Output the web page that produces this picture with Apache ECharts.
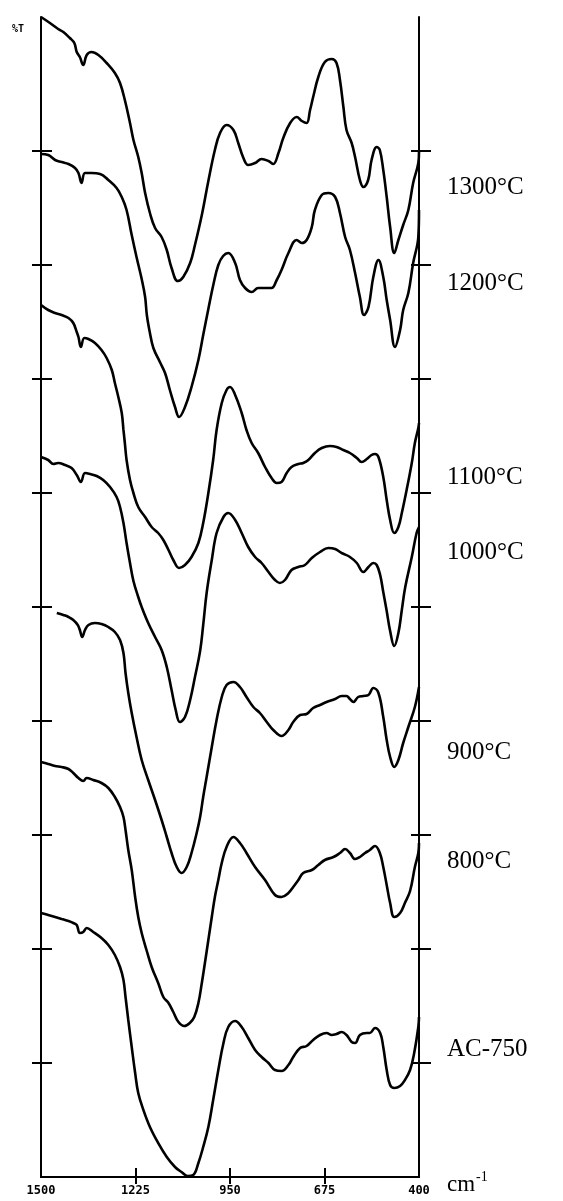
<!DOCTYPE html>
<html>
<head>
<meta charset="utf-8">
<title>IR spectra</title>
<script src="https://cdn.jsdelivr.net/npm/echarts@6/dist/echarts.min.js"></script>
<style>
  html, body { margin: 0; padding: 0; background: #fff; }
  #chart { width: 563px; height: 1201px; }
</style>
</head>
<body>
<div id="chart"></div>
<script>
// Wavenumber axis (cm-1) tick labels and the inner tick positions
const xTickLabels = [1500, 1225, 950, 675, 400];
const xInnerTicks = [1225, 950, 675];
// Offset transmittance scale: divisions along the frame sides
const yTicks = [114, 228, 342, 456, 570, 684, 798, 912, 1026];

// Spectra as [wavenumber, offset %T]
const s1300 = [[1500,1160],[1474,1154],[1450,1148],[1435,1145],[1416,1139],[1403,1134],[1396,1125],[1387,1120],[1377,1112],[1367,1122],[1353,1125],[1333,1122],[1309,1114],[1285,1104],[1270,1094],[1256,1077],[1241,1054],[1231,1037],[1217,1020],[1207,1004],[1197,984],[1183,964],[1168,949],[1149,940],[1134,927],[1120,909],[1102,896],[1086,900],[1066,914],[1052,932],[1032,962],[1013,996],[994,1027],[979,1044],[960,1052],[940,1047],[926,1034],[911,1019],[897,1012],[877,1014],[858,1018],[838,1016],[824,1013],[809,1024],[795,1039],[775,1054],[756,1060],[741,1056],[727,1054],[717,1067],[708,1080],[693,1100],[674,1115],[654,1118],[640,1114],[630,1097],[620,1070],[611,1047],[596,1034],[586,1020],[572,997],[562,990],[548,997],[538,1017],[523,1030],[514,1027],[504,1007],[494,980],[484,950],[472,924],[460,937],[446,952],[431,967],[417,994],[402,1014],[400,1025]];

const s1200 = [[1500,1023],[1479,1022],[1459,1017],[1440,1015],[1420,1013],[1401,1009],[1391,1004],[1382,994],[1372,1004],[1353,1004],[1328,1003],[1304,997],[1280,989],[1265,980],[1251,967],[1236,942],[1222,920],[1207,898],[1197,880],[1192,862],[1183,844],[1173,829],[1154,815],[1139,804],[1125,787],[1110,770],[1098,760],[1081,770],[1062,790],[1042,817],[1028,842],[1013,868],[998,893],[984,912],[970,921],[955,924],[935,914],[921,897],[906,889],[887,885],[868,889],[848,889],[829,889],[814,897],[800,907],[780,924],[756,937],[741,934],[727,937],[712,950],[703,967],[683,982],[664,984],[644,980],[630,964],[615,940],[601,927],[586,904],[572,880],[560,862],[547,870],[533,900],[518,917],[504,900],[494,877],[484,857],[470,830],[455,847],[446,867],[431,884],[417,914],[402,940],[400,967]];

const s1100 = [[1500,872],[1479,867],[1459,864],[1440,862],[1420,859],[1406,854],[1396,845],[1391,840],[1384,830],[1374,839],[1362,838],[1343,834],[1324,827],[1309,819],[1294,807],[1285,794],[1275,780],[1265,764],[1260,747],[1256,734],[1251,717],[1241,697],[1231,684],[1217,670],[1197,660],[1178,650],[1159,644],[1144,637],[1129,627],[1115,617],[1098,609],[1081,612],[1062,620],[1042,634],[1028,654],[1013,684],[999,717],[989,747],[974,774],[960,787],[950,790],[935,782],[916,764],[902,747],[887,734],[868,724],[848,710],[829,699],[814,694],[800,695],[785,704],[771,710],[751,713],[737,714],[722,717],[703,724],[683,729],[659,731],[640,730],[620,727],[601,724],[581,719],[567,715],[552,718],[538,722],[528,723],[518,720],[504,700],[494,677],[484,657],[472,644],[460,650],[450,664],[436,687],[421,714],[412,734],[402,749],[400,754]];

const s1000 = [[1500,720],[1479,717],[1464,713],[1450,714],[1430,712],[1411,709],[1396,702],[1384,695],[1372,704],[1357,703],[1338,701],[1319,697],[1299,690],[1280,680],[1270,670],[1260,654],[1251,634],[1241,614],[1231,596],[1217,580],[1207,570],[1188,554],[1168,540],[1149,527],[1134,510],[1120,487],[1108,467],[1096,455],[1081,460],[1066,477],[1052,500],[1037,526],[1028,552],[1018,584],[1003,617],[989,644],[969,660],[955,664],[935,657],[916,644],[897,630],[877,620],[858,614],[838,605],[819,597],[805,594],[790,597],[771,607],[751,610],[732,612],[712,619],[688,625],[664,629],[644,628],[625,624],[601,620],[581,614],[562,605],[547,610],[533,614],[523,612],[513,602],[504,585],[494,566],[484,546],[472,531],[460,544],[450,567],[440,590],[421,620],[407,644],[400,650]];

const s900 = [[1454,564],[1435,562],[1420,560],[1406,557],[1393,552],[1387,547],[1380,540],[1372,547],[1362,552],[1343,554],[1324,553],[1304,550],[1285,545],[1270,537],[1260,524],[1254,504],[1246,484],[1236,464],[1222,440],[1207,417],[1188,397],[1168,377],[1149,357],[1134,340],[1120,324],[1105,310],[1091,304],[1076,310],[1062,324],[1047,344],[1037,360],[1028,380],[1018,400],[1003,430],[989,457],[974,480],[960,492],[940,495],[921,490],[902,480],[882,470],[863,464],[843,455],[824,447],[800,441],[780,447],[766,455],[746,462],[727,463],[708,469],[688,472],[669,475],[644,478],[625,481],[611,481],[601,478],[591,475],[577,480],[562,481],[547,482],[533,489],[518,484],[504,460],[494,437],[484,420],[472,410],[460,417],[446,434],[431,450],[412,470],[400,490]];

const s800 = [[1500,415],[1479,413],[1459,411],[1440,410],[1420,408],[1406,404],[1391,399],[1377,396],[1367,399],[1348,397],[1324,394],[1304,389],[1285,380],[1270,370],[1260,360],[1254,347],[1246,327],[1236,307],[1226,280],[1217,260],[1207,244],[1193,227],[1178,210],[1159,194],[1144,180],[1129,174],[1115,165],[1100,155],[1083,151],[1067,154],[1054,160],[1042,174],[1032,194],[1023,214],[1013,237],[1003,260],[994,280],[984,297],[974,314],[960,330],[940,340],[921,334],[902,324],[877,310],[848,297],[819,282],[800,280],[780,284],[766,290],[751,297],[737,304],[712,307],[693,312],[674,317],[649,320],[630,324],[615,328],[601,324],[586,318],[572,320],[557,324],[543,327],[528,331],[514,324],[504,310],[494,292],[484,274],[472,260],[455,264],[441,274],[426,286],[412,310],[402,324],[400,334]];

const sAC750 = [[1500,264],[1479,262],[1459,260],[1440,258],[1420,256],[1406,254],[1396,252],[1387,244],[1377,245],[1367,249],[1348,245],[1324,239],[1304,232],[1285,222],[1270,210],[1260,197],[1254,180],[1246,157],[1236,130],[1226,104],[1217,84],[1202,67],[1183,50],[1159,34],[1134,20],[1110,10],[1091,5],[1073,1],[1057,2],[1042,14],[1028,30],[1013,50],[999,77],[984,107],[969,134],[955,150],[935,156],[916,150],[897,139],[877,127],[858,120],[838,114],[819,107],[800,106],[780,112],[766,120],[746,129],[727,131],[708,137],[688,142],[669,144],[654,142],[640,143],[625,145],[611,142],[596,135],[586,134],[572,142],[552,144],[543,144],[528,149],[513,144],[504,130],[494,107],[484,92],[472,89],[455,91],[441,97],[426,107],[414,124],[402,150],[400,160]];

const spectra = [
  { name: '1300°C', data: s1300 },
  { name: '1200°C', data: s1200 },
  { name: '1100°C', data: s1100 },
  { name: '1000°C', data: s1000 },
  { name: '900°C',  data: s900 },
  { name: '800°C',  data: s800 },
  { name: 'AC-750', data: sAC750 }
];

// Curve labels placed beside the right frame
const curveLabels = [
  { text: '1300°C', y: 188 },
  { text: '1200°C', y: 284 },
  { text: '1100°C', y: 478 },
  { text: '1000°C', y: 553 },
  { text: '900°C',  y: 753 },
  { text: '800°C',  y: 862 },
  { text: 'AC-750', y: 1050 }
];

const chart = echarts.init(document.getElementById('chart'), null, { renderer: 'canvas' });

const ink = '#000';
const frameLine = { show: true, lineStyle: { color: ink, width: 2 } };

function xAxisDef(position, opts) {
  return Object.assign({
    type: 'value', position: position, min: 400, max: 1500, inverse: true,
    splitLine: { show: false }, axisLabel: { show: false },
    axisLine: { show: false }, axisTick: { show: false }
  }, opts);
}
function yAxisDef(position, opts) {
  return Object.assign({
    type: 'value', position: position, min: 0, max: 1160,
    splitLine: { show: false }, axisLabel: { show: false },
    axisLine: { show: false }, axisTick: { show: false }
  }, opts);
}

const option = {
  backgroundColor: '#fff',
  animation: false,
  grid: { left: 41, right: 144, top: 17, bottom: 24, containLabel: false },
  xAxis: [
    xAxisDef('bottom', {
      axisLine: frameLine,
      axisTick: { show: true, inside: true, length: 9, customValues: xInnerTicks, lineStyle: { color: ink, width: 2 } },
      axisLabel: {
        show: true, customValues: xTickLabels, margin: 8,
        formatter: v => String(v),
        fontFamily: 'DejaVu Sans Mono', fontWeight: 'bold', fontSize: 12, color: ink
      }
    }),
    xAxisDef('bottom', {
      axisTick: { show: true, inside: false, length: 3, customValues: xInnerTicks, lineStyle: { color: ink, width: 2 } }
    }),
    xAxisDef('top', {
      axisLine: frameLine,
      axisTick: { show: true, inside: true, length: 7, customValues: xInnerTicks, lineStyle: { color: ink, width: 2 } }
    }),
    xAxisDef('top', {
      axisTick: { show: true, inside: false, length: 6, customValues: xInnerTicks, lineStyle: { color: ink, width: 2 } }
    })
  ],
  yAxis: [
    yAxisDef('left', {
      axisLine: frameLine,
      axisTick: { show: true, inside: true, length: 11, customValues: yTicks, lineStyle: { color: ink, width: 2 } }
    }),
    yAxisDef('left', {
      axisTick: { show: true, inside: false, length: 9, customValues: yTicks, lineStyle: { color: ink, width: 2 } }
    }),
    yAxisDef('right', {
      axisLine: frameLine,
      axisTick: { show: true, inside: true, length: 8, customValues: yTicks, lineStyle: { color: ink, width: 2 } }
    }),
    yAxisDef('right', {
      axisTick: { show: true, inside: false, length: 12, customValues: yTicks, lineStyle: { color: ink, width: 2 } }
    })
  ],
  series: spectra.map(s => ({
    name: s.name,
    type: 'line',
    xAxisIndex: 0,
    yAxisIndex: 0,
    data: s.data,
    symbol: 'none',
    smooth: 0.4,
    clip: false,
    lineStyle: { color: ink, width: 2.6 }
  })),
  graphic: [
    {
      type: 'text', left: 12, top: 24,
      style: { text: '%T', fill: ink, font: 'bold 10px "DejaVu Sans Mono"' }
    },
    {
      type: 'text', left: 447, top: 1170,
      style: {
        text: '{a|cm}{b|-1}', fill: ink,
        rich: {
          a: { fontFamily: 'Liberation Serif', fontSize: 23, verticalAlign: 'bottom' },
          b: { fontFamily: 'Liberation Serif', fontSize: 14, verticalAlign: 'top', padding: [0, 0, 12, 1] }
        }
      }
    }
  ].concat(curveLabels.map(l => ({
    type: 'text', left: 447, top: l.y - 13,
    style: { text: l.text, fill: ink, font: '25px "Liberation Serif"' }
  })))
};

chart.setOption(option);
</script>
</body>
</html>
